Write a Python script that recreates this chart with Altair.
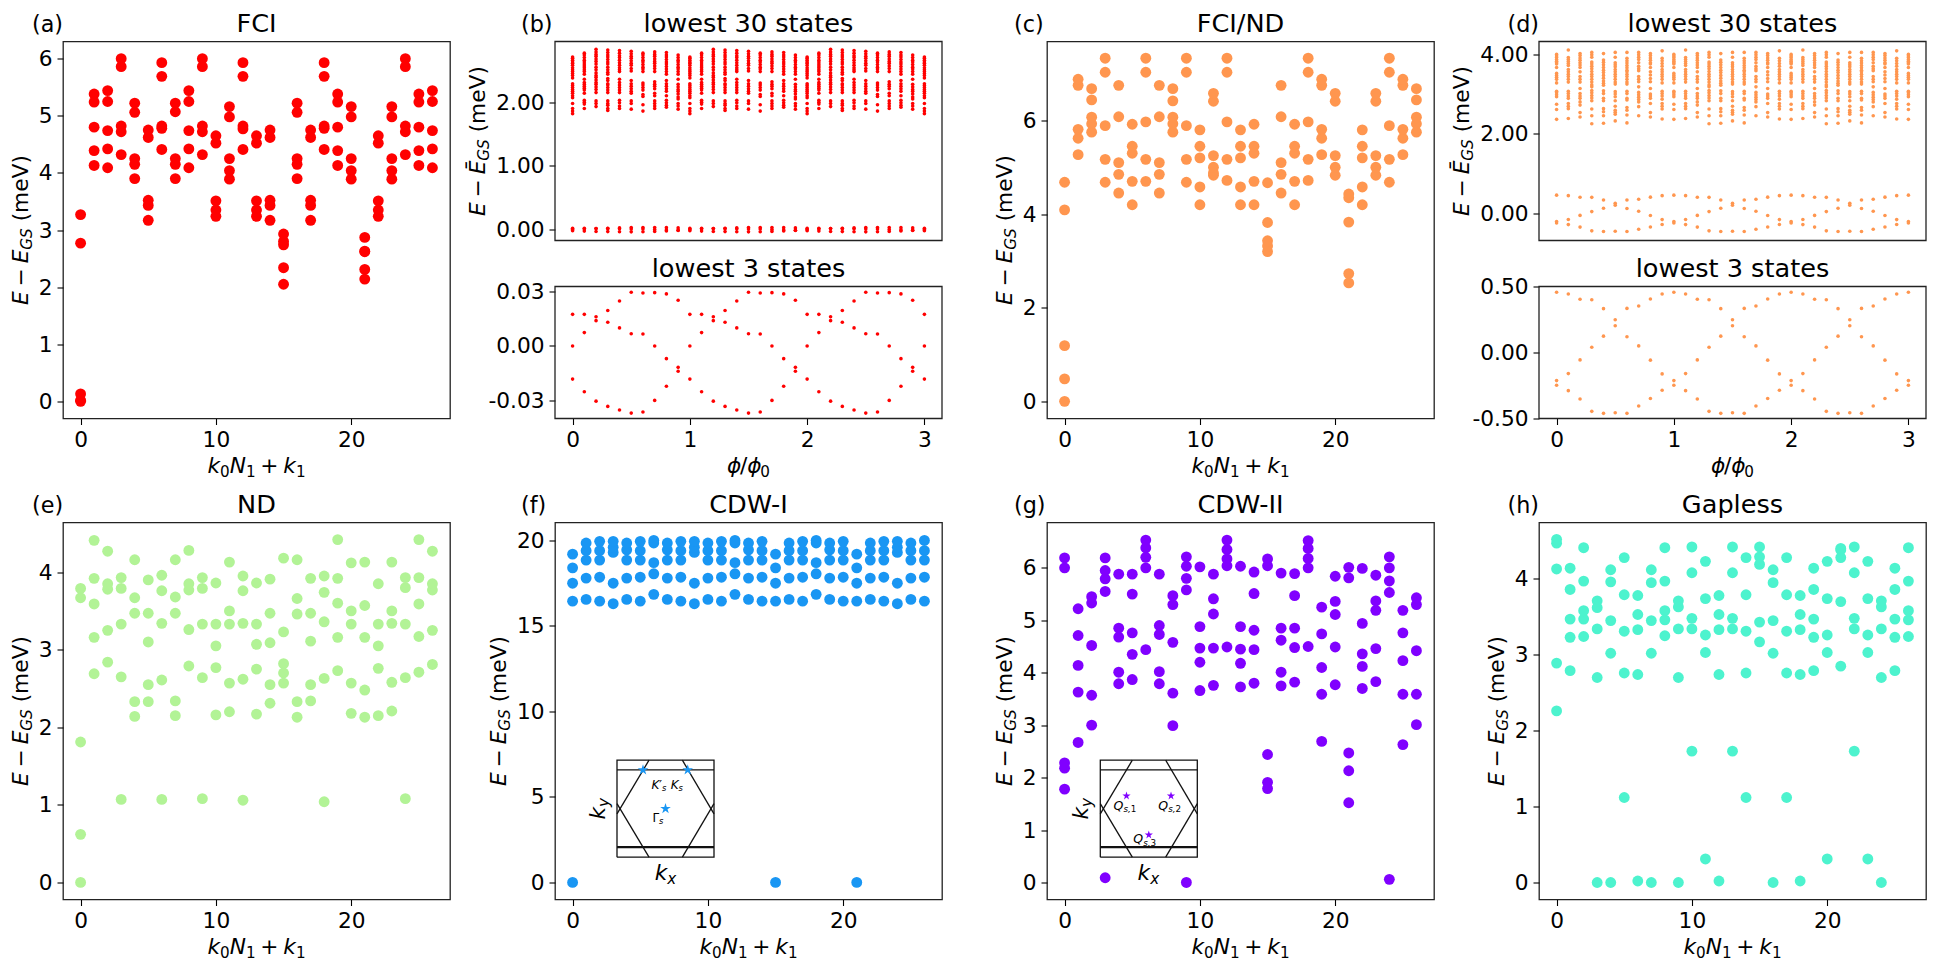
import altair as alt
import pandas as pd

FONT = "DejaVu Sans"
RED, ORANGE, GREEN = "#ff0000", "#ff964f", "#b2f396"
BLUE, VIOLET, TURQ = "#1996f3", "#8000ff", "#4df3ce"

FCI = [
 [0,0.02,0.13,2.77,3.27],[4.13,4.39,4.80,5.24,5.38],[4.09,4.42,4.74,5.25,5.44],[4.32,4.72,4.82,5.86,6.0],
 [3.90,4.15,4.25,5.06,5.22],[3.17,3.43,3.52,4.62,4.75],[4.41,4.78,4.82,5.69,5.93],[3.90,4.15,4.25,5.07,5.22],
 [4.09,4.42,4.74,5.25,5.44],[4.32,4.72,4.82,5.86,6.0],[3.24,3.35,3.51,4.52,4.65],[3.89,4.04,4.25,4.98,5.16],
 [4.41,4.77,4.82,5.69,5.93],[3.24,3.35,3.51,4.52,4.65],[3.17,3.43,3.52,4.62,4.75],[2.05,2.34,2.74,2.80,2.93],
 [3.90,4.15,4.25,5.06,5.22],[3.17,3.43,3.52,4.62,4.75],[4.41,4.78,4.82,5.69,5.93],[4.13,4.39,4.80,5.24,5.38],
 [3.89,4.04,4.25,4.98,5.16],[2.14,2.31,2.62,2.63,2.87],[3.24,3.35,3.51,4.52,4.65],[3.89,4.04,4.25,4.98,5.16],
 [4.32,4.72,4.82,5.86,6.0],[4.13,4.39,4.80,5.24,5.38],[4.09,4.42,4.74,5.25,5.44]]

FCI_ND = [
 [0,0.48,1.19,4.09,4.68],[5.27,5.62,5.81,6.75,6.88],[5.75,5.93,6.07,6.44,6.68],[4.68,5.17,5.89,7.03,7.33],
 [4.45,4.85,5.10,6.08,6.75],[4.20,4.70,5.30,5.45,5.92],[4.70,5.17,5.97,7.03,7.33],[4.45,4.85,5.10,6.08,6.75],
 [5.75,5.93,6.07,6.42,6.68],[4.68,5.17,5.89,7.03,7.33],[4.20,4.58,5.20,5.45,5.80],[4.83,4.88,5.00,5.25,6.41,6.58],
 [4.72,5.17,5.97,7.03,7.33],[4.20,4.58,5.20,5.45,5.80],[4.20,4.70,5.30,5.45,5.92],[3.20,3.32,3.43,3.82,4.67],
 [4.45,4.85,5.10,6.08,6.75],[4.20,4.70,5.30,5.45,5.92],[4.72,5.17,5.97,7.03,7.33],[5.27,5.62,5.81,6.75,6.88],
 [4.83,5.00,5.25,6.41,6.58],[2.53,2.73,3.83,4.35,4.43],[4.20,4.58,5.20,5.45,5.80],[4.83,5.00,5.25,6.41,6.58],
 [4.68,5.17,5.89,7.03,7.33],[5.27,5.62,5.81,6.75,6.88],[5.75,5.93,6.07,6.44,6.68]]

ND = [
 [0,0.62,1.81,3.67,3.79],[2.69,3.16,3.59,3.92,4.41],[2.84,3.25,3.78,3.85,4.27],[1.07,2.65,3.33,3.79,3.93],
 [2.14,2.33,3.47,3.67,4.16],[2.33,2.55,3.10,3.47,3.90],[1.07,2.61,3.34,3.76,3.96],[2.15,2.34,3.47,3.68,4.16],
 [2.79,3.26,3.77,3.85,4.28],[1.08,2.64,3.33,3.79,3.93],[2.16,2.77,3.05,3.33,3.86],[2.20,2.57,3.33,3.50,4.13],
 [1.06,2.62,3.34,3.76,3.95],[2.17,2.75,3.07,3.33,3.86],[2.31,2.55,3.09,3.47,3.91],[2.57,2.70,2.82,3.23,4.18],
 [2.13,2.33,3.46,3.66,4.16],[2.34,2.55,3.11,3.47,3.92],[1.04,2.63,3.36,3.74,3.95],[2.73,3.16,3.60,3.92,4.42],
 [2.18,2.57,3.33,3.50,4.12],[2.13,2.48,3.16,3.57,4.13],[2.15,2.76,3.05,3.33,3.85],[2.21,2.58,3.34,3.50,4.13],
 [1.08,2.64,3.33,3.80,3.93],[2.71,3.17,3.59,3.93,4.42],[2.81,3.25,3.77,3.85,4.27]]

CDW1 = [
 [0,16.45,17.5,18.4,19.2],[16.55,17.8,18.85,19.4,19.85],[16.45,17.85,18.85,19.4,19.95],[16.3,17.5,19.3,19.6,19.95],
 [16.55,17.8,18.85,19.45,19.85],[16.45,17.85,18.85,19.4,19.95],[16.85,18.05,18.7,19.85,20.0],[16.55,17.8,18.85,19.45,19.85],
 [16.45,17.85,18.85,19.4,19.95],[16.3,17.5,19.3,19.6,19.95],[16.55,17.8,18.85,19.4,19.85],[16.45,17.85,18.85,19.4,19.95],
 [16.85,18.05,18.7,19.85,20.0],[16.55,17.8,18.85,19.45,19.85],[16.45,17.85,18.85,19.4,19.95],[0,16.45,17.5,18.4,19.2],
 [16.55,17.8,18.85,19.4,19.85],[16.45,17.85,18.85,19.4,19.95],[16.85,18.05,18.7,19.85,20.0],[16.55,17.8,18.85,19.45,19.85],
 [16.45,17.85,18.85,19.4,19.95],[0,16.45,17.5,18.4,19.2],[16.55,17.8,18.85,19.4,19.85],[16.45,17.85,18.85,19.4,19.95],
 [16.3,17.5,19.3,19.6,19.95],[16.55,17.8,18.85,19.4,19.85],[16.45,17.85,18.85,19.4,20.0]]

CDW2 = [
 [1.78,2.18,2.28,6.0,6.19],[2.67,3.63,4.14,4.71,5.22],[3.0,3.57,4.52,5.33,5.45],[0.09,5.55,5.79,5.95,6.19],
 [3.79,4.01,4.68,4.85,5.88],[3.87,4.35,4.76,5.5,5.88],[4.44,6.0,6.2,6.38,6.53],[3.79,4.02,4.73,4.9,5.88],
 [2.99,3.61,4.58,5.3,5.47],[0,5.58,5.8,6.03,6.21],[3.66,4.2,4.47,4.88,6.02],[3.76,4.47,5.12,5.41,5.88],
 [4.49,6.04,6.17,6.35,6.53],[3.73,4.18,4.45,4.88,6.03],[3.8,4.44,4.81,5.51,5.92],[1.79,1.91,2.44,6.04,6.17],
 [3.75,4.01,4.62,4.85,5.9],[3.82,4.48,4.85,5.47,5.89],[4.5,6.0,6.18,6.37,6.52],[2.69,3.59,4.1,4.74,5.25],
 [3.77,4.49,5.11,5.36,5.84],[1.52,2.13,2.47,5.81,6.01],[3.7,4.12,4.36,4.94,5.99],[3.83,4.46,5.19,5.37,5.86],
 [0.06,5.53,5.75,6.0,6.21],[2.63,3.59,4.23,4.76,5.19],[3.01,3.59,4.42,5.3,5.43]]

GAPLESS = [
 [2.26,2.89,4.13,4.47,4.52],[2.79,3.23,3.47,3.86,4.14],[3.24,3.47,3.58,3.97,4.41],[0,2.7,3.34,3.62,3.71],
 [0,3.02,3.45,3.96,4.12],[1.12,2.76,3.31,3.79,4.28],[0.02,2.74,3.33,3.53,3.78],[0,3.02,3.45,3.95,4.12],
 [3.25,3.46,3.58,3.97,4.41],[0,2.7,3.34,3.63,3.71],[1.73,3.34,3.48,4.08,4.42],[0.31,3.03,3.26,3.74,4.23],
 [0.02,2.74,3.33,3.53,3.78],[1.73,3.34,3.48,4.08,4.42],[1.12,2.76,3.31,3.79,4.28],[3.17,3.43,4.19,4.29,4.42],
 [0,3.02,3.45,3.95,4.12],[1.12,2.76,3.31,3.79,4.28],[0.02,2.74,3.33,3.53,3.78],[2.79,3.23,3.47,3.86,4.14],
 [0.31,3.03,3.26,3.74,4.23],[2.85,3.7,4.28,4.38,4.40],[1.73,3.34,3.48,4.08,4.42],[0.31,3.03,3.26,3.74,4.23],
 [0,2.7,3.34,3.63,3.71],[2.79,3.23,3.47,3.86,4.14],[3.24,3.46,3.58,3.97,4.41]]

# Flux spectra: one period (phi = 0.0 ... 0.9); it repeats three times.
B_LOW = [
 [0.0175,0,-0.0183],[0.0175,0.0074,-0.0253],[0.0162,0.014,-0.0305],[0.0196,0.0131,-0.0334],[0.0249,0.01,-0.0354],
 [0.0297,0.0068,-0.0371],[0.0293,0.0066,-0.0365],[0.0295,0,-0.0301],[0.0288,-0.007,-0.0223],[0.0253,-0.0118,-0.014]]
B_HIGH = [
 [2.71,2.69,2.66,2.63,2.61,2.58,2.54,2.51,2.48,2.45,2.42,2.38,2.29,2.26,2.23,2.20,2.17,2.14,2.10,2.07,1.98,1.90,1.86,1.82],
 [2.77,2.74,2.70,2.66,2.63,2.60,2.57,2.54,2.51,2.48,2.44,2.36,2.31,2.28,2.25,2.22,2.19,2.14,2.03,2.0,1.97,1.90],
 [2.83,2.79,2.75,2.72,2.68,2.64,2.60,2.55,2.51,2.46,2.42,2.39,2.35,2.31,2.28,2.24,2.20,2.15,2.02,1.98,1.93],
 [2.82,2.78,2.74,2.71,2.67,2.63,2.60,2.55,2.51,2.47,2.44,2.37,2.34,2.29,2.27,2.23,2.19,2.15,2.02,1.98,1.95,1.90,1.87],
 [2.81,2.77,2.73,2.70,2.66,2.62,2.58,2.54,2.51,2.48,2.36,2.31,2.27,2.23,2.19,2.15,2.03,1.99,1.94,1.90],
 [2.80,2.76,2.72,2.69,2.65,2.61,2.58,2.53,2.49,2.34,2.29,2.25,2.21,2.17,2.14,2.02,1.98,1.89],
 [2.77,2.74,2.70,2.66,2.63,2.59,2.55,2.52,2.48,2.30,2.27,2.23,2.19,2.12,2.09,1.96,1.86],
 [2.79,2.75,2.72,2.68,2.64,2.61,2.57,2.53,2.48,2.32,2.28,2.25,2.21,2.14,2.10,2.02,1.98,1.94,1.90],
 [2.78,2.74,2.71,2.67,2.63,2.60,2.56,2.52,2.48,2.44,2.34,2.29,2.25,2.21,2.17,2.10,2.03,1.99,1.95,1.92],
 [2.74,2.70,2.66,2.63,2.59,2.55,2.52,2.48,2.44,2.36,2.28,2.24,2.20,2.17,2.13,2.08,2.05,1.98,1.94,1.89]]
D_LOW = [
 [0.456,-0.213,-0.248],[0.443,-0.16,-0.289],[0.403,-0.056,-0.352],[0.40,0.04,-0.446],[0.332,0.124,-0.461],
 [0.248,0.203,-0.456],[0.334,0.119,-0.461],[0.352,0.05,-0.405],[0.405,-0.058,-0.349],[0.443,-0.162,-0.286]]
D_HIGH = [
 [4.01,3.97,3.93,3.88,3.84,3.80,3.77,3.68,3.53,3.48,3.43,3.38,3.29,3.08,3.04,2.99,2.94,2.75,2.62,2.37],
 [4.12,3.93,3.88,3.83,3.78,3.73,3.63,3.57,3.51,3.45,3.38,3.31,3.08,3.02,2.96,2.90,2.77,2.70,2.64,2.39],
 [4.03,3.98,3.92,3.86,3.80,3.74,3.68,3.57,3.45,3.38,3.31,3.15,3.02,2.96,2.90,2.81,2.73,2.54,2.43],
 [4.06,4.0,3.94,3.82,3.77,3.71,3.65,3.58,3.51,3.45,3.38,3.31,3.24,3.19,3.10,3.04,2.97,2.91,2.84,2.63,2.46,2.26],
 [4.03,3.87,3.81,3.75,3.68,3.61,3.55,3.48,3.41,3.34,3.28,3.23,3.09,3.02,2.90,2.84,2.64,2.56,2.46,2.27],
 [4.06,3.94,3.80,3.75,3.70,3.63,3.57,3.51,3.45,3.38,3.31,3.26,3.07,3.01,2.94,2.84,2.70,2.60,2.55,2.50,2.33],
 [4.06,3.91,3.85,3.79,3.73,3.67,3.61,3.57,3.51,3.45,3.38,3.31,3.26,3.08,3.02,2.90,2.86,2.67,2.60,2.48,2.28],
 [4.06,4.0,3.94,3.88,3.80,3.71,3.65,3.60,3.45,3.38,3.32,3.19,3.05,2.99,2.93,2.87,2.81,2.69,2.46],
 [4.03,3.98,3.92,3.86,3.80,3.77,3.68,3.57,3.49,3.40,3.32,3.15,3.01,2.96,2.90,2.77,2.54,2.43],
 [4.10,3.91,3.85,3.78,3.71,3.63,3.57,3.51,3.45,3.38,3.29,3.08,3.02,2.96,2.88,2.77,2.70,2.63,2.38]]

# Inset Brillouin-zone drawing, in inset coordinates (0..1)
BZ_FRAME = [(0,0),(1,0),(1,1),(0,1),(0,0)]
BZ_EDGES = [[(0.33,1),(0,0.447)],[(0.33,0),(0,0.553)],[(0.674,1),(1,0.447)],[(0.674,0),(1,0.553)],[(0,0.90),(1,0.90)]]
BZ_THICK = [(0,0.103),(1,0.103)]
STARS_F = [(0.268,0.90),(0.729,0.90),(0.50,0.50)]
STARS_G = [(0.27,0.632),(0.729,0.632),(0.50,0.23)]

W, H, HB1, B2TOP = 387, 377, 199, 245
FS = 21.7
STAR = "M0,-1L0.2245,-0.309L0.951,-0.309L0.363,0.118L0.588,0.809L0,0.382L-0.588,0.809L-0.363,0.118L-0.951,-0.309L-0.2245,-0.309Z"
ONE = pd.DataFrame({"i": [0]})

EM = {"E":.632,"Ē":.632,"−":.838,"G":.775,"S":.635,"s":.521,"k":.579,"N":.748,"+":.838,"x":.592,"y":.592,
      "ϕ":.596,"/":.337,"K":.656,"′":.227,"Γ":.557,"Q":.787,",":.318,"(":.39,")":.39,"m":.974,"e":.615,"V":.684," ":.318}
def adv(t):
    return sum(EM.get(c, .636) for c in t)

def runs_width(runs, fs):
    tot = 0
    for t, kind in runs:
        tot += (t if kind == "sp" else adv(t) * (0.7 if kind.startswith("s") else 1)) * fs
    return tot

def math_text(runs, x, y, fs=FS, vertical=False):
    """Lay a formula out as text runs: x, y is the baseline start in plot pixels."""
    out, pos = [], 0
    for t, kind in runs:
        if kind == "sp":
            pos += t * fs
            continue
        sub = kind.startswith("s")
        size = fs * (0.7 if sub else 1)
        drop = 0.19 * fs if sub else 0
        italic = kind.endswith("i")
        px, py = (x + drop, y - pos) if vertical else (x + pos, y + drop)
        kw = dict(text=t, font=FONT, fontSize=size, color="black", align="left", baseline="alphabetic")
        if italic:
            kw["fontStyle"] = "italic"
        if vertical:
            kw["angle"] = 270
        out.append(alt.Chart(ONE).mark_text(**kw).encode(x=alt.value(px), y=alt.value(py)))
        pos += adv(t) * size
    return out

K_LABEL = [("k","i"),("0","sr"),("N","i"),("1","sr"),(.222,"sp"),("+","r"),(.222,"sp"),("k","i"),("1","sr")]
PHI_LABEL = [("ϕ","i"),("/","r"),("ϕ","i"),("0","sr")]
def e_label(bar=False):
    return [("E","i"),(.222,"sp"),("−","r"),(.222,"sp"),("Ē" if bar else "E","i"),("GS","si"),(.318,"sp"),("(meV)","r")]

def rows(cols, xs=None):
    return pd.DataFrame([{"x": (xs[i] if xs else i), "y": v} for i, c in enumerate(cols) for v in c])

def label_expr(dec):
    return "replace(format(datum.value,'.%df'),'−','-')" % dec if dec else "replace(format(datum.value,'d'),'−','-')"

def title_text(text, y):
    return alt.Chart(ONE).mark_text(text=text, font=FONT, fontSize=25.6, color="black", align="center",
                                    baseline="alphabetic").encode(x=alt.value(W / 2), y=alt.value(y))

def tag_text(tag, x, y=-10):
    return alt.Chart(ONE).mark_text(text=tag, font=FONT, fontSize=22.3, color="black", align="left",
                                    baseline="alphabetic").encode(x=alt.value(x), y=alt.value(y))

def panel(df, color, size, xdom, xticks, ydom, yticks, title, tag, tag_x, ylab_x, xlabel, extra=(), independent=False):
    base = alt.Chart(df).mark_circle(size=size, color=color, opacity=1).encode(
        x=alt.X("x:Q", scale=alt.Scale(domain=xdom, nice=False, zero=False),
                axis=alt.Axis(values=xticks, title=None, grid=False, labelExpr=label_expr(0))),
        y=alt.Y("y:Q", scale=alt.Scale(domain=ydom, nice=False, zero=False),
                axis=alt.Axis(values=yticks, title=None, grid=False, labelExpr=label_expr(0))))
    layers = [base, title_text(title, -10), tag_text(tag, tag_x)]
    r = e_label()
    layers += math_text(r, ylab_x, H / 2 + runs_width(r, FS) / 2, vertical=True)
    layers += math_text(xlabel, W / 2 - runs_width(xlabel, FS) / 2, H + 54.7)
    layers += list(extra)
    ch = alt.layer(*layers)
    if independent:
        ch = ch.resolve_scale(x="independent", y="independent")
    return ch.properties(width=W, height=H)

def frame(y0, y1):
    return alt.Chart(ONE).mark_rect(fillOpacity=0, stroke="#222", strokeWidth=1.3).encode(
        x=alt.value(0), x2=alt.value(W), y=alt.value(y0), y2=alt.value(y1))

def double_panel(top, bot, color, size, xdom, xticks, ydom1, yticks1, ydom2, yticks2, tag, tag_x, ylab_x):
    """Two stacked plots in one cell: each has its own y scale, mapped to its own pixel range."""
    xs = alt.Scale(domain=xdom, nice=False, zero=False)
    t = alt.Chart(top).mark_circle(size=size, color=color, opacity=1).encode(
        x=alt.X("x:Q", scale=xs, axis=None),
        y=alt.Y("y:Q", scale=alt.Scale(domain=ydom1, range=[HB1, 0], nice=False, zero=False),
                axis=alt.Axis(values=yticks1, title=None, grid=False, orient="left", labelExpr=label_expr(2))))
    b = alt.Chart(bot).mark_circle(size=size, color=color, opacity=1).encode(
        x=alt.X("x:Q", scale=xs, axis=alt.Axis(values=xticks, title=None, grid=False, labelExpr=label_expr(0))),
        y=alt.Y("y:Q", scale=alt.Scale(domain=ydom2, range=[H, B2TOP], nice=False, zero=False),
                axis=alt.Axis(values=yticks2, title=None, grid=False, orient="left", labelExpr=label_expr(2))))
    layers = [t, b, frame(0, HB1), frame(B2TOP, H), title_text("lowest 30 states", -10),
              title_text("lowest 3 states", B2TOP - 10), tag_text(tag, tag_x)]
    r = e_label(True)
    layers += math_text(r, ylab_x, HB1 / 2 + runs_width(r, FS) / 2, vertical=True)
    layers += math_text(PHI_LABEL, W / 2 - runs_width(PHI_LABEL, FS) / 2, H + 54.7)
    return alt.layer(*layers).resolve_scale(x="independent", y="independent").properties(
        width=W, height=H, view=alt.ViewConfig(strokeWidth=0, strokeOpacity=0))

def inset(left, stars, color, star_size, texts, kx_x, ky_x):
    xs = alt.Scale(domain=[0, 1], range=[left, left + 97], nice=False, zero=False)
    ys = alt.Scale(domain=[0, 1], range=[334.7, 237.7], nice=False, zero=False)
    X = alt.X("u:Q", scale=xs, axis=None)
    Y = alt.Y("v:Q", scale=ys, axis=None)
    segs = [{"seg": "frame", "u": a, "v": b, "o": i} for i, (a, b) in enumerate(BZ_FRAME)]
    for n, s in enumerate(BZ_EDGES):
        segs += [{"seg": "e%d" % n, "u": a, "v": b, "o": i} for i, (a, b) in enumerate(s)]
    thick = pd.DataFrame([{"u": a, "v": b, "o": i} for i, (a, b) in enumerate(BZ_THICK)])
    sd = pd.DataFrame([{"u": a, "v": b} for a, b in stars])
    out = [
        alt.Chart(pd.DataFrame(segs)).mark_line(color="#111", strokeWidth=1.3).encode(x=X, y=Y, detail="seg:N", order="o:Q"),
        alt.Chart(thick).mark_line(color="#111", strokeWidth=2.2).encode(x=X, y=Y, order="o:Q"),
        alt.Chart(sd).mark_point(shape=STAR, filled=True, size=star_size, color=color, opacity=1).encode(x=X, y=Y),
    ]
    out += math_text([("k","i"),("x","si")], kx_x, 357)
    out += math_text([("k","i"),("y","si")], ky_x, 297, vertical=True)
    for r, a, b, fs in texts:
        out += math_text(r, a, b, fs=fs)
    return out

def tile(cols):
    return [cols[i % 10] for i in range(31)]

PHI = [i / 10 for i in range(31)]
B_TOP = rows([h + l for h, l in zip(tile(B_HIGH), tile(B_LOW))], PHI)
D_TOP = rows([h + l for h, l in zip(tile(D_HIGH), tile(D_LOW))], PHI)
B_BOT = rows(tile(B_LOW), PHI)
D_BOT = rows(tile(D_LOW), PHI)

KDOM = [-1.3, 27.3]
KT = [0, 10, 20]
PDOM = [-0.15, 3.15]
PT = [0, 1, 2, 3]
DOT = 118
SMALL = 13

a = panel(rows(FCI), RED, DOT, KDOM, KT, [-0.3, 6.3], list(range(7)), "FCI", "(a)", -31, -34.7, K_LABEL)
b = double_panel(B_TOP, B_BOT, RED, SMALL, PDOM, PT, [-0.173, 2.953], [0, 1, 2], [-0.0401, 0.0329], [-0.03, 0, 0.03],
                 "(b)", -34, -70)
c = panel(rows(FCI_ND), ORANGE, DOT, KDOM, KT, [-0.366, 7.687], [0, 2, 4, 6], "FCI/ND", "(c)", -33, -34.7, K_LABEL)
d = double_panel(D_TOP, D_BOT, ORANGE, SMALL, PDOM, PT, [-0.69, 4.336], [0, 2, 4], [-0.5, 0.5], [-0.5, 0, 0.5],
                 "(d)", -31.5, -69.7)
e = panel(rows(ND), GREEN, DOT, KDOM, KT, [-0.22, 4.64], list(range(5)), "ND", "(e)", -31, -34.7, K_LABEL)

F_TEXTS = [([("K","i"),("′","r"),("s","si")], 96.4, 266.7, 12),
           ([("K","i"),("s","si")], 115.7, 266.7, 12),
           ([("Γ","r"),("s","si")], 97.4, 299, 12)]
G_TEXTS = [([("Q","i"),("s,","si"),("1","sr")], 66.6, 287.3, 12.5),
           ([("Q","i"),("s,","si"),("2","sr")], 111.3, 287.3, 12.5),
           ([("Q","i"),("s,","si"),("3","sr")], 86.3, 320.7, 12.5)]

f = panel(rows(CDW1), BLUE, DOT, KDOM, KT, [-1.0, 21.05], [0, 5, 10, 15, 20], "CDW-I", "(f)", -34, -49.3, K_LABEL,
          extra=inset(62, STARS_F, BLUE, 125, F_TEXTS, 99.7, 49.7), independent=True)
g = panel(rows(CDW2), VIOLET, DOT, KDOM, KT, [-0.325, 6.865], list(range(7)), "CDW-II", "(g)", -33, -34.7, K_LABEL,
          extra=inset(53.3, STARS_G, VIOLET, 75, G_TEXTS, 90.6, 40.6), independent=True)
h = panel(rows(GAPLESS), TURQ, DOT, KDOM, KT, [-0.224, 4.742], list(range(5)), "Gapless", "(h)", -31.5, -34.7, K_LABEL)

chart = alt.concat(a, b, c, d, e, f, g, h, columns=4, spacing={"row": 104, "column": 105}, bounds="flush").properties(
    padding={"left": 2, "top": 2.5, "right": 0, "bottom": 0}, background="white"
).configure_view(stroke="#222", strokeWidth=1.3).configure_axis(
    labelFont=FONT, labelFontSize=FS, labelColor="black", tickColor="black", tickWidth=1.1, tickSize=6,
    labelPadding=5, domain=False, grid=False
)

chart.save("out.html", embed_options={"renderer": "svg", "actions": False})
